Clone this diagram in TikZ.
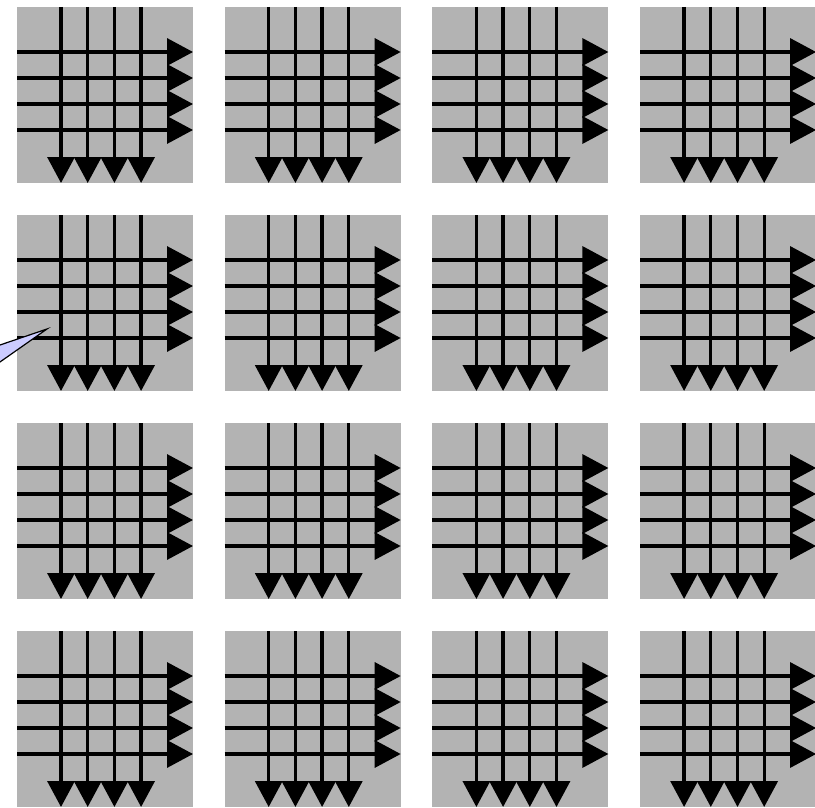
\documentclass[tikz,border=0pt]{standalone}
\usetikzlibrary{arrows.meta}
\definecolor{cellgray}{RGB}{179,179,179}
\definecolor{wedgeblue}{RGB}{204,204,255}
\tikzset{
 flowline/.style={line width=3.3pt, -{Triangle[length=26pt,width=27pt]}},
 wedgeshape/.style={fill=wedgeblue, draw=black, line width=1.2pt, line join=miter}
}
\begin{document}
\begin{tikzpicture}[x=1pt,y=-1pt]
\useasboundingbox (0,0) rectangle (815,808);
\clip (0,0) rectangle (815,808);
\foreach \i in {0,...,3}{
 \foreach \j in {0,...,3}{
  \begin{scope}[shift={(17+207.7*\i, 7+208*\j)}]
   \fill[cellgray] (0,0) rectangle (176,176);
   \foreach \k in {0,...,3}{
     \draw[flowline] (44+26.7*\k,0) -- (44+26.7*\k,176);
     \draw[flowline] (0,45+26*\k) -- (176,45+26*\k);
   }
  \end{scope}
 }
}
\draw[wedgeshape] (47,329) -- (-10,348.4) -- (-10,369) -- cycle;
\end{tikzpicture}
\end{document}
